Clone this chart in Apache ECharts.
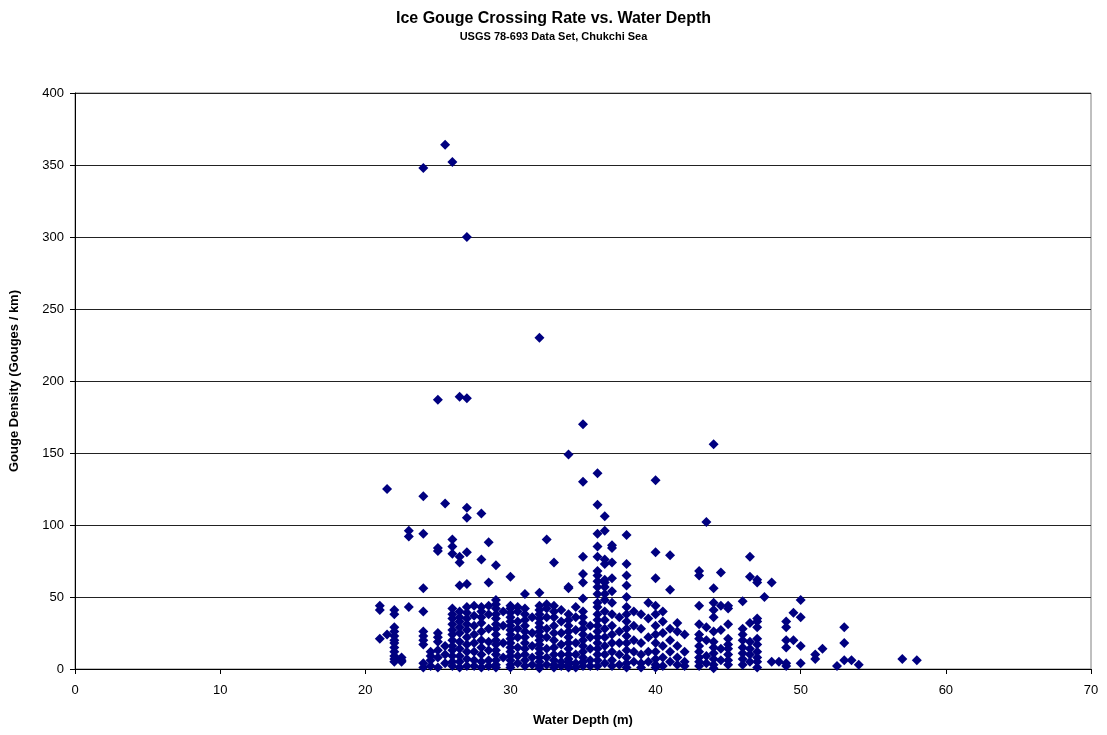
<!DOCTYPE html>
<html>
<head>
<meta charset="utf-8">
<script src="https://cdn.jsdelivr.net/npm/echarts@6/dist/echarts.min.js"></script>
<style>
  html, body { margin: 0; padding: 0; background: #fff; }
  #chart { width: 1107px; height: 735px; }
</style>
</head>
<body>
<div id="chart"></div>
<script>
// water depth (m) of each column of measurements
const depths = [
  21, 21.5, 22, 22.5, 23, 24, 24.5, 25, 25.5, 26, 26.5, 27, 27.5, 28, 28.5, 29, 29.5, 30, 30.5,
  31, 31.5, 32, 32.5, 33, 33.5, 34, 34.5, 35, 35.5, 36, 36.5, 37, 37.5, 38, 38.5, 39, 39.5,
  40, 40.5, 41, 41.5, 42, 43, 43.5, 44, 44.5, 45, 46, 46.5, 47, 47.5, 48, 48.5, 49, 49.5,
  50, 51, 51.5, 52.5, 53, 53.5, 54, 57, 58
]

const densities = [
  [44, 41, 21],
  [125, 24],
  [41, 38, 29, 26, 23, 20, 18, 15, 12, 9, 7, 5],
  [8, 6, 5],
  [96, 92, 43],
  [348, 120, 94, 56, 40, 26, 23, 20, 17, 4, 1],
  [12, 9, 6, 2],
  [187, 84, 82, 25, 22, 19, 13, 8, 1],
  [364, 115, 16, 10, 4],
  [352, 90, 85, 80, 42, 38, 35, 31, 27, 24, 20, 16, 13, 9, 5, 2],
  [189, 78, 74, 58, 40, 36, 33, 29, 25, 19, 14, 9, 5, 1],
  [300, 188, 112, 105, 81, 59, 43, 39, 35, 31, 27, 22, 17, 12, 7, 2],
  [44, 37, 30, 24, 18, 12, 6, 2],
  [108, 76, 43, 40, 36, 32, 26, 20, 15, 10, 5, 1],
  [88, 60, 44, 38, 28, 19, 13, 6, 2],
  [72, 48, 45, 42, 38, 35, 31, 28, 24, 20, 17, 13, 10, 6, 3, 1],
  [40, 30, 18, 8],
  [64, 44, 42, 39, 36, 33, 30, 27, 24, 21, 18, 15, 12, 9, 6, 3, 1],
  [43, 40, 33, 28, 22, 15, 9, 4],
  [52, 42, 38, 34, 30, 26, 22, 18, 14, 10, 6, 2],
  [36, 25, 16, 8, 3],
  [230, 53, 44, 41, 38, 35, 32, 29, 26, 23, 20, 17, 14, 11, 8, 5, 2, 0.5],
  [90, 45, 42, 36, 28, 22, 14, 8, 3],
  [74, 44, 40, 36, 30, 25, 20, 15, 10, 6, 3, 1],
  [41, 33, 25, 17, 10, 5, 2],
  [149, 57, 56, 38, 34, 30, 26, 22, 18, 14, 10, 7, 5, 3, 1],
  [43, 36, 27, 18, 10, 4, 1],
  [170, 130, 78, 66, 60, 49, 40, 36, 32, 28, 24, 20, 16, 12, 8, 5, 2],
  [30, 22, 14, 6, 2],
  [136, 114, 94, 85, 78, 68, 65, 61, 57, 52, 46, 43, 38, 34, 30, 26, 22, 18, 14, 10, 6, 2],
  [106, 96, 76, 73, 62, 60, 57, 52, 48, 40, 34, 28, 22, 16, 10, 4],
  [86, 84, 74, 63, 54, 46, 38, 30, 24, 18, 12, 6, 2],
  [36, 26, 18, 10, 3],
  [93, 73, 65, 58, 50, 43, 38, 33, 28, 23, 18, 13, 8, 4, 1],
  [40, 30, 20, 12, 5],
  [38, 28, 18, 10, 4, 1],
  [46, 35, 22, 12, 5],
  [131, 81, 63, 44, 38, 30, 24, 18, 12, 7, 3, 1],
  [40, 33, 25, 16, 8, 2],
  [79, 55, 28, 20, 12, 5],
  [32, 26, 16, 8, 3],
  [24, 12, 5, 2],
  [68, 65, 44, 31, 24, 21, 16, 12, 8, 5, 2],
  [102, 29, 20, 9, 4],
  [156, 56, 46, 41, 36, 26, 19, 15, 11, 7, 3, 0.5],
  [67, 44, 27, 14, 6],
  [44, 42, 31, 21, 17, 14, 10, 6, 3],
  [47, 28, 24, 20, 15, 11, 7, 3],
  [78, 64, 32, 19, 14, 10, 5],
  [62, 60, 35, 33, 29, 21, 17, 12, 8, 5, 1],
  [50],
  [60, 5],
  [5],
  [33, 29, 20, 15, 4, 2],
  [39, 20],
  [48, 36, 16, 4],
  [10, 7],
  [14],
  [2],
  [29, 18, 6],
  [6],
  [3],
  [7],
  [6]
]

const xTicks = [0, 10, 20, 30, 40, 50, 60, 70]
const yTicks = [0, 50, 100, 150, 200, 250, 300, 350, 400]

let points = []
for (let i = 0; i < depths.length; i++) {
  for (let j = 0; j < densities[i].length; j++) {
    points.push([depths[i], densities[i][j]])
  }
}

const font = 'Liberation Sans, Arial, sans-serif'
const chart = echarts.init(document.getElementById('chart'))

const option = {
  animation: false,
  title: {
    text: 'Ice Gouge Crossing Rate vs. Water Depth',
    subtext: 'USGS 78-693 Data Set, Chukchi Sea',
    left: 'center',
    top: 6,
    itemGap: 4,
    textStyle: { fontFamily: font, fontSize: 16, fontWeight: 'bold', color: '#000' },
    subtextStyle: { fontFamily: font, fontSize: 11, fontWeight: 'bold', color: '#000' },
  },
  grid: {
    left: 75,
    right: 16,
    top: 93,
    bottom: 66,
    show: true,
    borderColor: '#808080',
    borderWidth: 1,
  },
  xAxis: {
    type: 'value',
    min: xTicks[0],
    max: xTicks[xTicks.length - 1],
    interval: 10,
    name: 'Water Depth (m)',
    nameLocation: 'middle',
    nameGap: 45,
    nameTextStyle: { fontFamily: font, fontSize: 13, fontWeight: 'bold', color: '#000' },
    axisLine: { lineStyle: { color: '#000', width: 1 } },
    axisTick: { show: true, inside: false, length: 5, lineStyle: { color: '#000' } },
    axisLabel: { fontFamily: font, fontSize: 13, color: '#000', margin: 15 },
    splitLine: { show: false },
  },
  yAxis: {
    type: 'value',
    min: yTicks[0],
    max: yTicks[yTicks.length - 1],
    interval: 50,
    name: 'Gouge Density (Gouges / km)',
    nameLocation: 'middle',
    nameGap: 54,
    nameTextStyle: { fontFamily: font, fontSize: 13, fontWeight: 'bold', color: '#000' },
    axisLine: { show: true, lineStyle: { color: '#000', width: 1 } },
    axisTick: { show: true, inside: false, length: 5, lineStyle: { color: '#000' } },
    axisLabel: { fontFamily: font, fontSize: 13, color: '#000', margin: 11 },
    splitLine: { show: true, lineStyle: { color: '#222', width: 1 } },
  },
  series: [
    {
      type: 'scatter',
      symbol: 'diamond',
      symbolSize: 10,
      itemStyle: { color: '#000080', opacity: 1 },
      data: points,
    },
  ],
}

chart.setOption(option)
</script>
</body>
</html>
